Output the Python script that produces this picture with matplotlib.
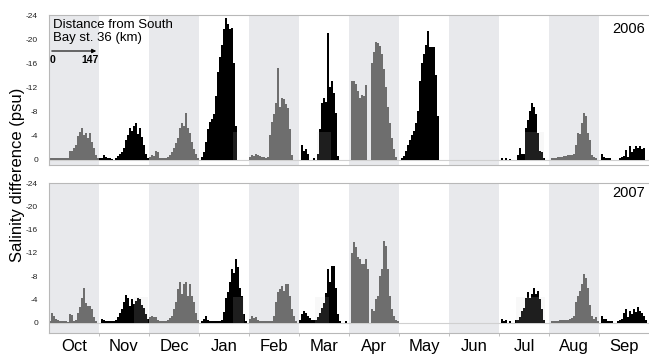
import numpy as np
import matplotlib
matplotlib.use('Agg')
import matplotlib.pyplot as plt
from matplotlib.patches import Rectangle

plt.rcParams['font.family'] = ['Liberation Sans', 'DejaVu Sans']
plt.rcParams['axes.unicode_minus'] = False

nan = np.nan

months = ['Oct', 'Nov', 'Dec', 'Jan', 'Feb', 'Mar', 'Apr', 'May', 'Jun', 'Jul', 'Aug', 'Sep']
station_km = np.arange(0, 150, 6)  # 25 stations, 0 .. 144 km from South Bay st. 36

# salinity difference (psu) at each station, 2005-2006 season
oct_2006 = [-0.2, -0.2, -0.2, -0.2, -0.2, -0.2, -0.2, -0.2, -0.2, -0.2, -1.4, -1.5, -2.0,
            -2.5, -3.9, -4.5, -5.2, -4.0, -4.4, -3.5, -4.4, -3.0, -2.0, -0.8, -0.3]
nov_2006 = [-0.3, -0.2, -0.8, -0.4, -0.3, -0.2, -0.1, nan, -0.3, -0.6, -0.9, -1.3, -2.0,
            -3.3, -4.0, -5.3, -4.8, -5.5, -6.1, -4.2, -5.3, -3.8, -2.5, -1.0, -0.2]
dec_2006 = [-0.5, -0.8, -0.6, -1.4, -1.2, -0.3, -0.2, -0.2, -0.3, -0.4, -0.8, -1.3, -2.0,
            -2.8, -3.5, -5.2, -6.0, -5.5, -7.8, -5.3, -4.4, -3.0, -1.8, -0.9, -0.3]
jan_2006 = [nan, -0.5, -1.2, -3.0, -5.0, -6.3, -6.8, -7.5, -10.5, -14.5, -17.0, -19.0, -21.6,
            -23.5, -22.5, -21.6, -21.9, -16.0, -5.5, nan, nan, nan, nan, nan, nan]
feb_2006 = [-0.5, -0.7, -0.6, -1.0, -0.8, -0.6, -0.5, -0.4, -0.3, -0.5, -4.0, -6.2, -7.5,
            -9.4, -15.2, -8.8, -10.2, -10.0, -9.2, -8.5, -5.0, -0.8, nan, nan, nan]
mar_2006 = [nan, -2.5, -1.4, -1.8, -1.0, nan, nan, -0.2, nan, -1.0, -5.0, -9.4, -10.2,
            -9.5, -21.0, -12.0, -13.0, -11.0, -7.8, -0.6, nan, nan, nan, nan, nan]
apr_2006 = [nan, -13.0, -13.1, -12.5, -11.4, -10.3, -10.8, -10.5, -12.3, nan, nan, -16.0, -17.8,
            -19.6, -19.3, -18.8, -17.5, -15.0, -12.0, -8.8, -6.0, -3.5, -1.7, -0.5, nan]
may_2006 = [nan, -0.3, -0.6, -1.4, -2.5, -3.3, -4.0, -4.8, -6.0, -8.0, -13.0, -16.0, -17.5,
            -19.0, -21.3, -18.7, -18.7, -18.7, -14.0, -7.3, nan, nan, nan, nan, nan]
jun_2006 = [nan] * 25
jul_2006 = [nan, -0.2, nan, -0.2, nan, -0.1, nan, nan, nan, -0.8, -1.9, -1.0, -1.0,
            -5.3, -6.6, -8.0, -9.4, -8.8, -7.5, -4.4, -1.4, -1.2, -0.3, nan, nan]
aug_2006 = [nan, -0.2, -0.3, -0.3, -0.4, -0.4, -0.5, -0.6, -0.6, -0.7, -0.7, -0.8, -1.0,
            -2.5, -4.4, -4.2, -6.0, -7.7, -7.3, -4.4, -3.3, -0.8, -0.5, -0.2, nan]
sep_2006 = [nan, -1.0, -0.4, -0.2, -0.2, -0.3, nan, nan, nan, nan, -0.2, -0.4, -0.6,
            -1.6, -0.5, -2.3, -1.3, -1.7, -2.2, -2.0, -2.3, -1.8, -1.9, nan, nan]

# 2006-2007 season
oct_2007 = [-0.3, -1.6, -1.2, -0.6, -0.4, -0.3, -0.3, -0.3, -0.2, -0.1, -1.4, -1.3, -0.3,
            -0.4, -1.6, -2.7, -4.3, -6.0, -3.3, -2.8, -2.9, -2.4, -1.0, -0.3, nan]
nov_2007 = [nan, -0.6, -0.4, -0.3, -0.3, -0.3, -0.3, -0.3, -0.5, -0.9, -1.7, -2.3, -3.5,
            -4.8, -4.2, -2.8, -4.0, -3.2, -3.7, -4.3, -4.0, -3.0, -2.5, -1.5, -0.6]
dec_2007 = [-0.9, -1.1, -1.0, -0.9, -0.4, -0.2, -0.2, -0.2, -0.3, -0.5, -0.8, -1.2, -2.3,
            -3.5, -5.7, -7.0, -4.9, -6.6, -6.9, -4.6, -6.6, -4.5, -3.5, -1.7, -0.4]
jan_2007 = [nan, -0.3, -0.6, -1.1, -0.5, -0.3, -0.3, -0.3, -0.3, -0.3, -0.3, -0.5, -1.8,
            -4.3, -5.2, -7.0, -9.2, -8.5, -10.9, -9.5, -6.0, -4.6, -1.5, -0.3, nan]
feb_2007 = [-0.6, -1.1, -0.7, -0.9, -0.5, -0.3, -0.2, -0.2, -0.2, -0.2, -0.2, -0.3, -1.1,
            -3.5, -5.2, -5.7, -6.3, -5.5, -6.6, -6.6, -4.5, -2.3, -1.1, -0.3, nan]
mar_2007 = [-0.5, -1.4, -2.0, -1.7, -1.1, -0.8, -0.5, -0.4, -0.5, -0.9, -1.7, -2.5, -3.4,
            -5.0, -9.2, -6.9, -9.8, -9.8, -6.0, -1.5, -0.2, nan, nan, -0.2, nan]
apr_2007 = [nan, -12.0, -13.8, -13.0, -11.2, -10.9, -10.1, -10.1, -10.9, -9.2, nan, -2.3, -2.0,
            -4.0, -4.6, -8.0, -9.2, -14.0, -13.1, -9.2, -4.6, -2.3, -1.1, -0.4, -0.2]
may_2007 = [nan] * 25
jun_2007 = [nan] * 25
jul_2007 = [nan, -0.6, -0.3, -0.4, nan, -0.2, nan, nan, -0.4, -0.5, -0.9, -2.0, -2.5,
            -4.3, -5.2, -4.3, -4.9, -5.9, -4.9, -5.5, -4.0, -2.3, -0.5, nan, nan]
aug_2007 = [nan, -0.2, -0.3, -0.3, -0.3, -0.4, -0.4, -0.4, -0.5, -0.5, -0.6, -0.7, -1.1,
            -3.5, -4.6, -5.5, -6.6, -8.3, -7.6, -6.0, -3.0, -1.1, -0.6, -0.9, -0.2]
sep_2007 = [nan, -1.1, -0.6, -0.6, -0.3, -0.3, -0.2, nan, nan, -0.3, -0.4, -0.6, -1.7,
            -2.3, -0.9, -2.0, -1.4, -2.3, -1.8, -2.6, -2.0, -1.7, -1.1, -0.4, nan]

profiles_2006 = [oct_2006, nov_2006, dec_2006, jan_2006, feb_2006, mar_2006,
                 apr_2006, may_2006, jun_2006, jul_2006, aug_2006, sep_2006]
profiles_2007 = [oct_2007, nov_2007, dec_2007, jan_2007, feb_2007, mar_2007,
                 apr_2007, may_2007, jun_2007, jul_2007, aug_2007, sep_2007]

# faint overlay boxes seen on the original figure (year, month, from km, to km, depth)
box_year = [2006, 2006, 2006, 2007, 2007, 2007, 2007]
box_month = ['Jan', 'Mar', 'Jul', 'Nov', 'Jan', 'Mar', 'Jul']
box_from = [102, 54, 78, 105, 102, 48, 51]
box_to = [114, 96, 135, 147, 135, 90, 138]
box_depth = [-4.5, -4.6, -4.5, -4.4, -4.4, -4.4, -4.4]

shade = '#e8e9ec'
gray = '#6e6e6e'
month_span = 150

fig = plt.figure(figsize=(6.49, 3.56), dpi=100)
ax_top = fig.add_axes([49 / 649, 1 - 165 / 356, 600 / 649, 150 / 356])
ax_bot = fig.add_axes([49 / 649, 1 - 333 / 356, 600 / 649, 150 / 356])

for ax, year, profiles, ybottom in [(ax_top, 2006, profiles_2006, 0.9),
                                    (ax_bot, 2007, profiles_2007, 1.8)]:
    for i, (name, prof) in enumerate(zip(months, profiles)):
        x0 = i * month_span
        if i % 2 == 0:
            ax.axvspan(x0, x0 + month_span, color=shade, lw=0, zorder=0)
        color = gray if i % 2 == 0 else 'black'
        w = 3.6 if name == 'Apr' else 4.8
        ax.bar(x0 + station_km + 3, prof, width=w, color=color, lw=0, zorder=2)
    for by, bm, bf, bt, bd in zip(box_year, box_month, box_from, box_to, box_depth):
        if by != year:
            continue
        x0 = months.index(bm) * month_span
        ax.add_patch(Rectangle((x0 + bf, 0), bt - bf, bd, facecolor='#d0d0d0',
                               alpha=0.15, lw=0, zorder=3))
    ax.axhline(0, color='#d0d0d0', lw=0.8, zorder=1)
    ax.set_xlim(0, 12 * month_span)
    ax.set_ylim(ybottom, -24)
    ax.set_yticks(range(-24, 1, 4))
    ax.tick_params(axis='y', length=0, pad=8, labelsize=6, labelcolor='#222222')
    for side in ['top', 'left', 'bottom']:
        ax.spines[side].set_color('#b8b8b8')
        ax.spines[side].set_linewidth(0.8)
    ax.spines['right'].set_visible(False)
    ax.text(0.993, 0.907 if year == 2006 else 0.933, str(year), transform=ax.transAxes,
            ha='right', va='center', fontsize=10.5)

ax_top.set_xticks([])
centers = np.arange(12) * month_span + month_span / 2
ax_bot.set_xticks(centers)
ax_bot.set_xticklabels(months, fontsize=12)
ax_bot.set_xticks(np.arange(1, 12) * month_span, minor=True)
ax_bot.tick_params(axis='x', which='major', length=0, pad=4)
ax_bot.tick_params(axis='x', which='minor', length=2.5, color='#b8b8b8')

# distance annotation in the first month
ax_top.text(0.006, 0.975, 'Distance from South\nBay st. 36 (km)', transform=ax_top.transAxes,
            ha='left', va='top', fontsize=9.5, linespacing=1.1)
ax_top.annotate('', xy=(150, 0.76), xytext=(0, 0.76), xycoords=('data', 'axes fraction'),
                arrowprops=dict(arrowstyle='-|>', color='black', lw=0.8, mutation_scale=6))
ax_top.text(12, 0.70, '0', transform=ax_top.get_xaxis_transform(), ha='center', va='center',
            fontsize=7.5, fontweight='bold')
ax_top.text(123, 0.70, '147', transform=ax_top.get_xaxis_transform(), ha='center', va='center',
            fontsize=7.5, fontweight='bold')

fig.text(18 / 649, 1 - 175 / 356, 'Salinity difference (psu)', rotation=90,
         ha='center', va='center', fontsize=12)

fig.savefig('out.png', dpi=100)
